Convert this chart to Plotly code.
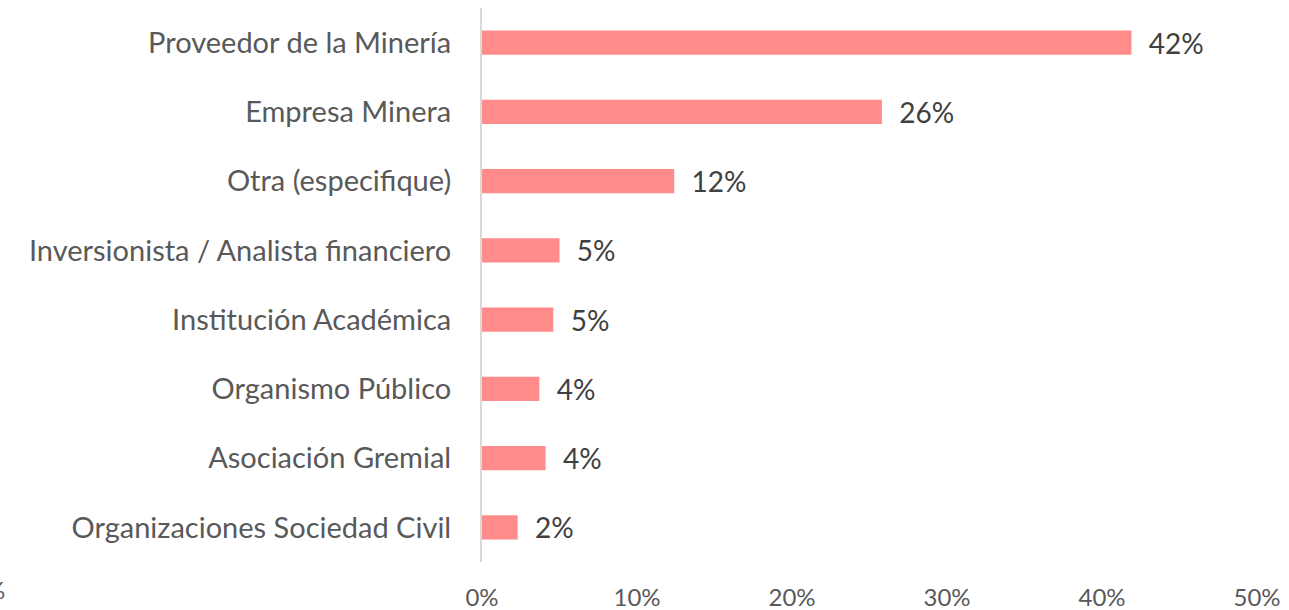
import plotly.graph_objects as go

categories = [
    "Proveedor de la Minería",
    "Empresa Minera",
    "Otra (especifique)",
    "Inversionista / Analista financiero",
    "Institución Académica",
    "Organismo Público",
    "Asociación Gremial",
    "Organizaciones Sociedad Civil",
]
values = [0.419, 0.258, 0.124, 0.050, 0.046, 0.037, 0.041, 0.023]
x_ticks = [0, 0.1, 0.2, 0.3, 0.4, 0.5]
x_ticklabels = ["0%", "10%", "20%", "30%", "40%", "50%"]

FONT = "Lato"
fig = go.Figure()
fig.add_trace(go.Bar(
    y=categories,
    x=values,
    orientation="h",
    marker=dict(color="#FF8B8B", line=dict(width=0)),
    text=[f"\u00a0\u00a0{round(v*100)}%" for v in values],
    textposition="outside",
    constraintext="none",
    textfont=dict(family=FONT, size=28, color="#404040"),
    cliponaxis=False,
    width=0.35,
    hoverinfo="skip",
))

fig.update_layout(
    width=1289, height=610,
    margin=dict(l=482, r=32, t=8, b=48, autoexpand=False),
    plot_bgcolor="white", paper_bgcolor="white",
    showlegend=False,
    font=dict(family=FONT, size=28, color="#595959"),
    xaxis=dict(
        range=[0, 0.5], tickvals=x_ticks, ticktext=x_ticklabels,
        showgrid=False, zeroline=False, showline=False,
        ticks="", ticklabelstandoff=19,
        tickfont=dict(family=FONT, size=24, color="#595959"),
    ),
    yaxis=dict(
        autorange="reversed", showgrid=False, zeroline=False,
        showline=True, linecolor="#D9D9D9", linewidth=2,
        ticks="", ticklabelstandoff=23,
        tickfont=dict(family=FONT, size=29, color="#595959"),
    ),
    annotations=[dict(
        text="0%", xref="paper", yref="paper",
        x=(7 - 482) / 775, y=-0.05, xanchor="right", yanchor="middle",
        showarrow=False, font=dict(family=FONT, size=24, color="#595959"),
    )],
)

fig.write_html(
    "out.html",
    config={"displayModeBar": False},
    post_script="document.body.style.margin='0px';document.body.style.overflow='hidden';",
)
